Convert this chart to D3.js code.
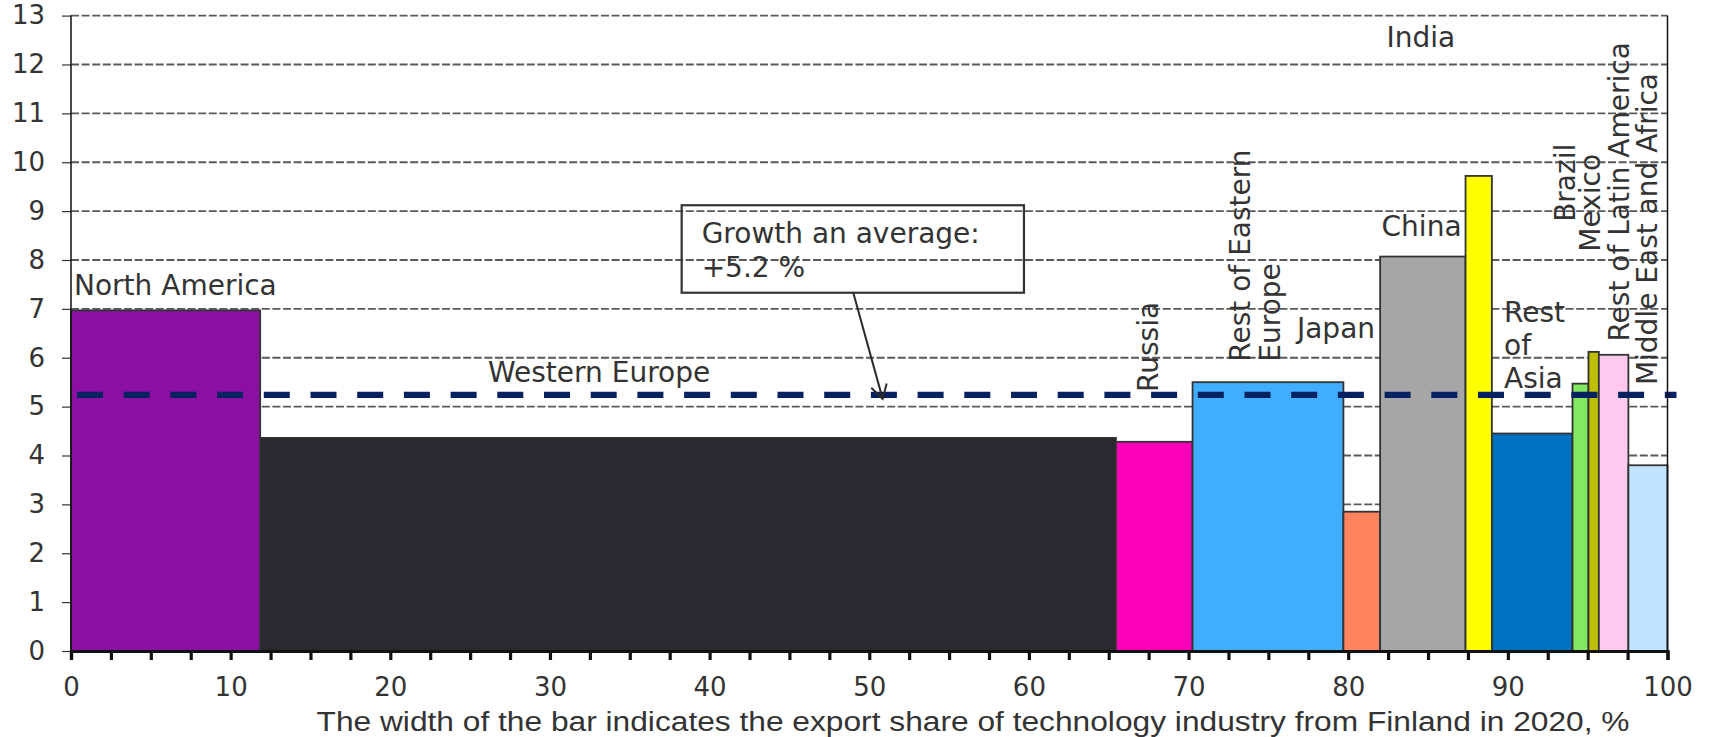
<!DOCTYPE html>
<html>
<head>
<meta charset="utf-8">
<script src="https://cdn.jsdelivr.net/npm/d3@7"></script>
<style>
  html, body { margin: 0; padding: 0; background: #ffffff; }
  svg { display: block; }
  text { font-family: "DejaVu Sans", Verdana, sans-serif; fill: #333333; }
</style>
</head>
<body>
<svg id="chart" width="1711" height="737"></svg>
<script>
// Regions, their share of Finnish technology-industry exports in 2020 (bar width, %)
// and forecast annual growth of demand (bar height, %)
const regions = ["North America", "Western Europe", "Russia", "Rest of Eastern Europe", "Japan", "China",
                 "India", "Rest of Asia", "Brazil", "Mexico", "Rest of Latin America", "Middle East and Africa"];
const exportShare = [11.85, 53.6, 4.8, 9.45, 2.3, 5.35, 1.65, 5.05, 1.0, 0.65, 1.85, 2.45];
const growth = [6.97, 4.36, 4.28, 5.5, 2.85, 8.07, 9.72, 4.45, 5.47, 6.12, 6.06, 3.8];
const barColors = ["#8b10a1", "#29282e", "#ff00b9", "#41adff", "#ff835e", "#a6a6a6",
                   "#ffff00", "#0070c0", "#82e862", "#bfbf00", "#ffc9ee", "#c0e4ff"];
const averageGrowth = 5.24;
const yTicks = [0, 1, 2, 3, 4, 5, 6, 7, 8, 9, 10, 11, 12, 13];
const xLabelTicks = [0, 10, 20, 30, 40, 50, 60, 70, 80, 90, 100];
const xAxisTitle = "The width of the bar indicates the export share of technology industry from Finland in 2020, %";

// Label placement in axis units: [x, y, rotated?, lines]
const labelLayout = [
  { x: 0.19,  y: 7.28,  rot: false, lines: ["North America"] },
  { x: 26.12, y: 5.51,  rot: false, lines: ["Western Europe"] },
  { x: 68.09, y: 5.30,  rot: true,  lines: ["Russia"] },
  { x: 73.85, y: 5.92,  rot: true,  lines: ["Rest of Eastern", "Europe"] },
  { x: 76.79, y: 6.40,  rot: false, lines: ["Japan"] },
  { x: 82.09, y: 8.49,  rot: false, lines: ["China"] },
  { x: 82.40, y: 12.36, rot: false, lines: ["India"] },
  { x: 89.76, y: 6.73,  rot: false, lines: ["Rest", "of", "Asia"] },
  { x: 94.21, y: 8.78,  rot: true,  lines: ["Brazil"] },
  { x: 95.77, y: 8.17,  rot: true,  lines: ["Mexico"] },
  { x: 97.56, y: 6.33,  rot: true,  lines: ["Rest of Latin America"] },
  { x: 99.34, y: 5.44,  rot: true,  lines: ["Middle East and Africa"] }
];

const svg = d3.select("#chart");
const x = d3.scaleLinear().domain([0, 100]).range([71, 1667.5]);
const y = d3.scaleLinear().domain([0, 13]).range([651, 15.6]);

// Horizontal gridlines
svg.append("g")
  .selectAll("line")
  .data(yTicks.filter(d => d > 0))
  .join("line")
  .attr("x1", x(0)).attr("x2", x(100))
  .attr("y1", d => y(d)).attr("y2", d => y(d))
  .attr("stroke", "#5a5a5a")
  .attr("stroke-width", 1.8)
  .attr("stroke-dasharray", "8,2.6");

// Variable-width bars: each bar starts where the previous one ended
const starts = d3.cumsum([0].concat(exportShare.slice(0, -1)));
const bars = regions.map((r, i) => ({
  region: r, x0: starts[i], x1: starts[i] + exportShare[i], value: growth[i], color: barColors[i]
}));

svg.append("g")
  .selectAll("rect")
  .data(bars)
  .join("rect")
  .attr("x", d => x(d.x0))
  .attr("width", d => x(d.x1) - x(d.x0))
  .attr("y", d => y(d.value))
  .attr("height", d => y(0) - y(d.value))
  .attr("fill", d => d.color)
  .attr("stroke", "#333333")
  .attr("stroke-width", 1.8);

// Average growth line
svg.append("line")
  .attr("x1", x(0) + 6).attr("x2", x(100) + 9)
  .attr("y1", y(averageGrowth)).attr("y2", y(averageGrowth))
  .attr("stroke", "#06215f")
  .attr("stroke-width", 6.3)
  .attr("stroke-dasharray", "26,20.7");

// Y axis
const yAxis = svg.append("g")
  .attr("transform", `translate(${x(0)},0)`)
  .call(d3.axisLeft(y).tickValues(yTicks).tickSize(9).tickPadding(17).tickFormat(d3.format("d")));
yAxis.select(".domain").remove();
yAxis.selectAll(".tick line").attr("stroke", "#333333").attr("stroke-width", 1.2);
yAxis.selectAll(".tick text").style("font-size", "26px").style("font-family", "DejaVu Sans, sans-serif").attr("fill", "#333333");
svg.append("line")
  .attr("x1", x(0)).attr("x2", x(0))
  .attr("y1", y(13)).attr("y2", y(0))
  .attr("stroke", "#111111").attr("stroke-width", 1.5);
// Right frame line
svg.append("line")
  .attr("x1", x(100)).attr("x2", x(100))
  .attr("y1", y(13)).attr("y2", y(0))
  .attr("stroke", "#111111").attr("stroke-width", 1.5);

// X axis: minor ticks every 2.5, labels every 10
const xMinor = svg.append("g")
  .attr("transform", `translate(0,${y(0)})`)
  .call(d3.axisBottom(x).tickValues(d3.range(0, 100.01, 2.5)).tickSize(9).tickFormat(""));
xMinor.select(".domain").attr("stroke", "#111111").attr("stroke-width", 3.2);
xMinor.selectAll(".tick line").attr("stroke", "#111111").attr("stroke-width", 3.2);

const xLabels = svg.append("g")
  .attr("transform", `translate(0,${y(0)})`)
  .call(d3.axisBottom(x).tickValues(xLabelTicks).tickSize(0).tickPadding(27).tickFormat(d3.format("d")));
xLabels.select(".domain").remove();
xLabels.selectAll(".tick text").style("font-size", "26px").style("font-family", "DejaVu Sans, sans-serif").attr("fill", "#333333");

svg.append("text")
  .attr("x", x(56.5)).attr("y", 731)
  .attr("text-anchor", "middle")
  .attr("textLength", 1313)
  .attr("lengthAdjust", "spacingAndGlyphs")
  .style("font-family", "'Liberation Sans', Arial, sans-serif")
  .style("font-size", "27px")
  .text(xAxisTitle);

// Region labels
const labelSize = 28, lineStep = 33;
labelLayout.forEach(l => {
  const px = x(l.x), py = y(l.y);
  const t = svg.append("text")
    .style("font-size", labelSize + "px")
    .attr("transform", l.rot ? `translate(${px},${py}) rotate(-90)` : `translate(${px},${py})`);
  l.lines.forEach((line, i) => {
    t.append("tspan")
      .attr("x", 0)
      .attr("y", l.rot ? lineStep * 0.9 * i : lineStep * i)
      .text(line);
  });
});

// Average growth call-out with arrow
const box = { x0: 38.25, x1: 59.69, y0: 9.12, y1: 7.33 };
svg.append("rect")
  .attr("x", x(box.x0)).attr("y", y(box.y0))
  .attr("width", x(box.x1) - x(box.x0))
  .attr("height", y(box.y1) - y(box.y0))
  .attr("fill", "none")
  .attr("stroke", "#333333")
  .attr("stroke-width", 2.2);
const callout = svg.append("text").style("font-size", "28px");
callout.append("tspan").attr("x", x(box.x0) + 20).attr("y", y(box.y0) + 38).text("Growth an average:");
callout.append("tspan").attr("x", x(box.x0) + 20).attr("y", y(box.y0) + 72)
  .text("+" + d3.format(".1f")(averageGrowth) + " %");

const ax0 = x(49.0), ay0 = y(box.y1);
const ax1 = x(50.84), ay1 = y(averageGrowth) + 4;
svg.append("line")
  .attr("x1", ax0).attr("y1", ay0).attr("x2", ax1).attr("y2", ay1)
  .attr("stroke", "#2b2b2b").attr("stroke-width", 2);
const ang = Math.atan2(ay1 - ay0, ax1 - ax0);
const headLen = 16, spread = Math.PI / 6;
svg.append("path")
  .attr("d", `M${ax1 - headLen * Math.cos(ang - spread)},${ay1 - headLen * Math.sin(ang - spread)}`
           + `L${ax1},${ay1}`
           + `L${ax1 - headLen * Math.cos(ang + spread)},${ay1 - headLen * Math.sin(ang + spread)}`)
  .attr("fill", "none").attr("stroke", "#2b2b2b").attr("stroke-width", 2);
</script>
</body>
</html>
